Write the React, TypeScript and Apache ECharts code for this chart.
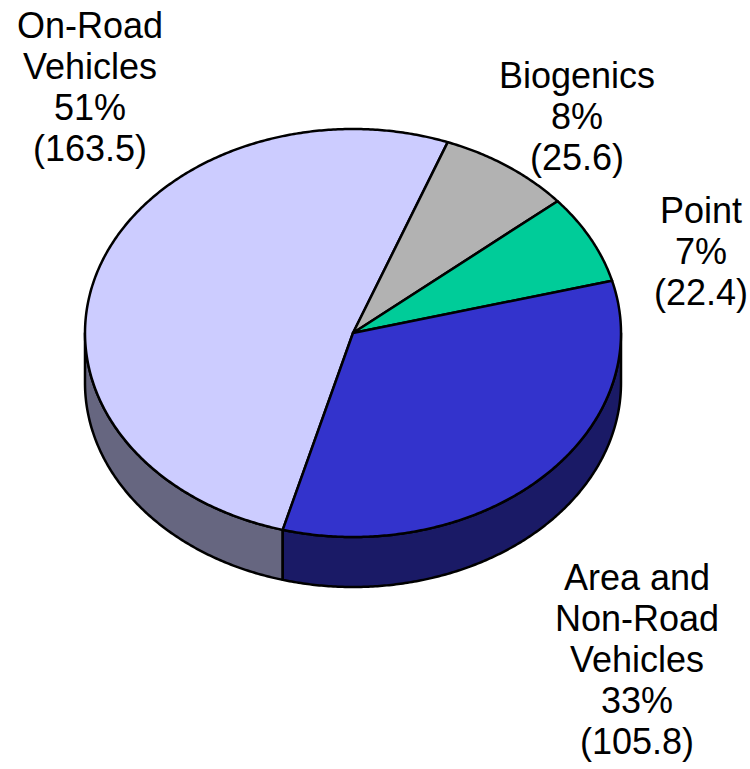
import React, { useEffect, useRef } from "react";
import * as echarts from "echarts";

// ---- data ----
const categories = ["On-Road Vehicles", "Biogenics", "Point", "Area and Non-Road Vehicles"];
const labelNames = ["On-Road\nVehicles", "Biogenics", "Point", "Area and\nNon-Road\nVehicles"];
const values = [163.5, 25.6, 22.4, 105.8];
const percentLabels = [51, 8, 7, 33];

// ---- styles / layout ----
const topColors = ["#CCCCFF", "#B2B2B2", "#00CC99", "#3333CC"];
const sideColors = ["#666680", "#595959", "#006650", "#1A1A66"];
const CX = 353;
const CY = 333;
const RX = 268;
const RY = 204;
const DEPTH = 50;
const START_DEG = 254.8; // slices run clockwise from here
const labelLayout = [
  { x: 90, y: 5 },
  { x: 577, y: 55 },
  { x: 701, y: 190 },
  { x: 637, y: 557 },
];
const FONT = 36;
const LINE_H = 41;

const total = values.reduce((a, b) => a + b, 0);

function sliceRange(i: number, vals: number[]) {
  let before = 0;
  for (let k = 0; k < i; k++) before += vals[k];
  const a = START_DEG - (before / total) * 360;
  const b = a - (vals[i] / total) * 360;
  return [a, b];
}

function pt(tDeg: number, dy = 0): number[] {
  const t = (tDeg * Math.PI) / 180;
  return [CX + RX * Math.cos(t), CY - RY * Math.sin(t) + dy];
}

function arcPoints(from: number, to: number, dy = 0): number[][] {
  const pts: number[][] = [];
  const n = Math.max(2, Math.ceil(Math.abs(to - from) / 0.5));
  for (let j = 0; j <= n; j++) pts.push(pt(from + ((to - from) * j) / n, dy));
  return pts;
}

export default function App() {
  const ref = useRef<HTMLDivElement>(null);
  useEffect(() => {
    document.body.style.margin = "0";
    const chart = echarts.init(ref.current!, undefined, { renderer: "svg" });
    const seriesData = values.map((v, i) => ({ name: categories[i], value: [i, v] }));

    const renderSide = (params: any, api: any) => {
      const i = params.dataIndex;
      const [a, b] = sliceRange(i, values);
      let lo = b;
      let hi = a;
      while (lo < 0) {
        lo += 360;
        hi += 360;
      }
      const children: any[] = [];
      for (const [vs, ve] of [
        [180, 360],
        [540, 720],
      ]) {
        const s = Math.max(lo, vs);
        const e = Math.min(hi, ve);
        if (e - s > 0.01) {
          const topArc = arcPoints(s, e, 0);
          const botArc = arcPoints(e, s, DEPTH);
          children.push({
            type: "polygon",
            shape: { points: topArc.concat(botArc) },
            style: { fill: sideColors[i], stroke: "#000", lineWidth: 2.5, lineJoin: "round" },
          });
        }
      }
      return { type: "group", children };
    };

    const renderTop = (params: any, api: any) => {
      const i = params.dataIndex;
      const [a, b] = sliceRange(i, values);
      const pts = [[CX, CY]].concat(arcPoints(a, b, 0));
      return {
        type: "polygon",
        shape: { points: pts },
        style: { fill: topColors[i], stroke: "#000", lineWidth: 2.5, lineJoin: "round" },
      };
    };

    const graphics = values.map((v, i) => ({
      type: "text",
      x: labelLayout[i].x,
      y: labelLayout[i].y,
      style: {
        text: `${labelNames[i]}\n${percentLabels[i]}%\n(${v.toFixed(1)})`,
        font: `${FONT}px "Liberation Sans", Arial, sans-serif`,
        fill: "#000",
        align: "center",
        verticalAlign: "top",
        lineHeight: LINE_H,
      },
    }));

    chart.setOption({
      animation: false,
      backgroundColor: "#fff",
      series: [
        {
          type: "custom",
          name: "sides",
          coordinateSystem: "none",
          z: 1,
          data: seriesData,
          renderItem: renderSide,
        },
        {
          type: "custom",
          name: "tops",
          coordinateSystem: "none",
          z: 2,
          data: seriesData,
          renderItem: renderTop,
        },
      ],
      graphic: graphics,
    });
    return () => chart.dispose();
  }, []);
  return <div ref={ref} style={{ width: 750, height: 769 }} />;
}
